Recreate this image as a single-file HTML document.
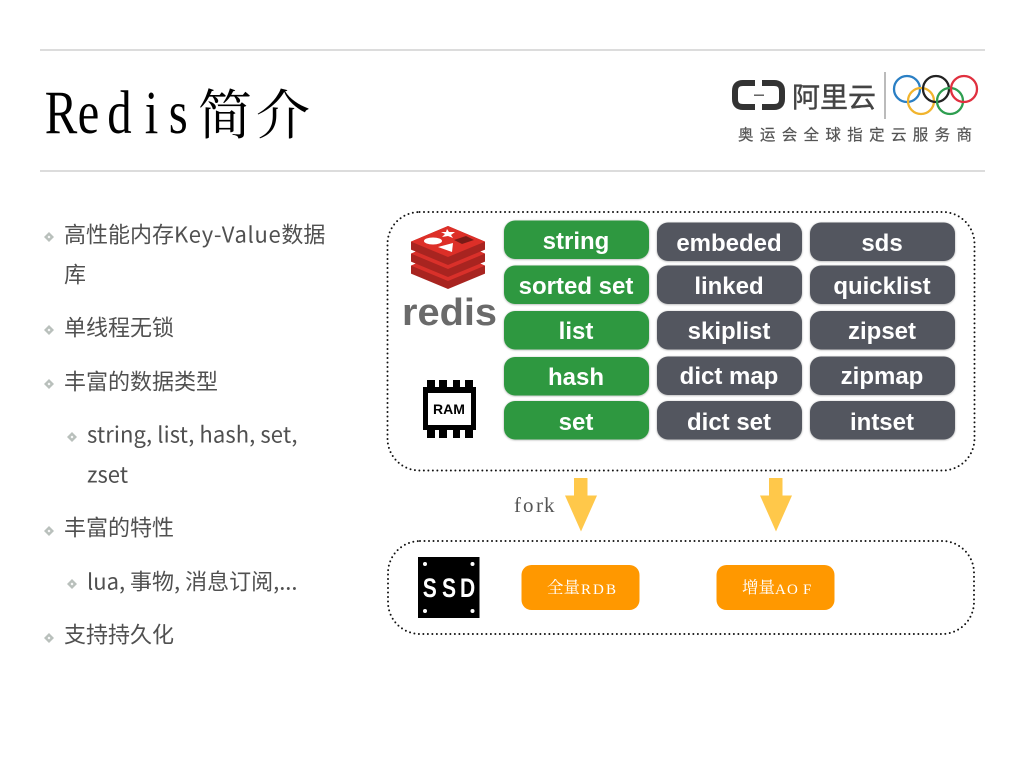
<!DOCTYPE html>
<html lang="zh"><head><meta charset="utf-8"><title>Redis简介</title>
<style>
html,body{margin:0;padding:0;background:#fff;width:1024px;height:768px;overflow:hidden}
svg{display:block}
.b{font-family:"Noto Sans CJK SC","Liberation Sans",sans-serif;font-size:22px;fill:#505050}
.p{font-family:"Liberation Sans",sans-serif;font-weight:bold;font-size:24px;fill:#fff;text-anchor:middle}
.t{font-family:"Noto Serif CJK SC","Liberation Serif",serif}
</style></head><body>
<svg width="1024" height="768" viewBox="0 0 1024 768" xmlns="http://www.w3.org/2000/svg">
<defs>
<filter id="s" x="-5%" y="-15%" width="110%" height="130%"><feGaussianBlur in="SourceAlpha" stdDeviation="1"/><feOffset dy="0.5"/><feComponentTransfer><feFuncA type="linear" slope="0.35"/></feComponentTransfer><feMerge><feMergeNode/><feMergeNode in="SourceGraphic"/></feMerge></filter>
<g id="d"><path d="M0-5 5 0 0 5-5 0Z" fill="#b9c0bc"/><path d="M0-1.500 1.500 0 0 1.500-1.500 0Z" fill="#fff"/></g>
</defs>
<line x1="40" y1="50" x2="985" y2="50" stroke="#dcdcdc" stroke-width="2"/>
<line x1="40" y1="171" x2="985" y2="171" stroke="#dcdcdc" stroke-width="2"/>

<text transform="scale(.8 1)" x="56 97 134 181 211" y="133" font-family="'Liberation Serif',serif" font-size="61" fill="#000">Redis</text>
<text x="198 256" y="134" class="t" font-size="54" fill="#000">简介</text>

<!-- Logo -->
<path d="M755 83H743Q735 83 735 91V99Q735 107 743 107H755" fill="none" stroke="#333" stroke-width="6"/>
<path d="M762 83H774Q782 83 782 91V99Q782 107 774 107H762" fill="none" stroke="#333" stroke-width="6"/>
<rect x="754" y="94.500" width="10" height="1.400" fill="#555"/>
<text x="792" y="107" font-family="'Noto Sans CJK SC',sans-serif" font-size="28" fill="#444" stroke="#444" stroke-width=".4">阿里云</text>
<line x1="885" y1="72" x2="885" y2="119" stroke="#777" stroke-width="1"/>
<g fill="none" stroke-width="2.300">
<circle cx="907" cy="89" r="13" stroke="#2a7fc4"/>
<circle cx="921" cy="101" r="13" stroke="#f1b42d"/>
<circle cx="936" cy="89" r="13" stroke="#222"/>
<circle cx="950" cy="101" r="13" stroke="#2e9e50"/>
<circle cx="964" cy="89" r="13" stroke="#e0303f"/>
</g>
<text x="738" y="140" font-family="'Noto Sans CJK SC',sans-serif" font-size="15.500" fill="#555" stroke="#555" stroke-width=".2" textLength="234" lengthAdjust="spacing">奥运会全球指定云服务商</text>

<!-- Bullets -->
<use href="#d" x="49" y="237"/><use href="#d" x="49" y="330"/><use href="#d" x="49" y="384"/><use href="#d" x="72" y="437"/><use href="#d" x="49" y="531"/><use href="#d" x="72" y="584"/><use href="#d" x="49" y="638"/>
<text class="b" x="64" y="242.500">高性能内存<tspan letter-spacing=".68">Key-Value</tspan>数据</text>
<text class="b" x="64" y="282.500">库</text>
<text class="b" x="64" y="335.500">单线程无锁</text>
<text class="b" x="64" y="389.500">丰富的数据类型</text>
<text class="b" x="87" y="442.500" letter-spacing=".09">string, list, hash, set,</text>
<text class="b" x="87" y="482.500">zset</text>
<text class="b" x="64" y="535.500">丰富的特性</text>
<text class="b" x="87" y="589.500">lua, 事物, 消息订阅,...</text>
<text class="b" x="64" y="642.500">支持持久化</text>

<!-- Dotted containers -->
<rect x="387.500" y="212" width="587" height="258.500" rx="32" fill="#fff" stroke="#111" stroke-width="2" stroke-linecap="round" stroke-dasharray="0 4.500"/>
<rect x="388" y="541" width="586" height="93" rx="32" fill="#fff" stroke="#111" stroke-width="2" stroke-linecap="round" stroke-dasharray="0 4.500"/>

<!-- Redis logo -->
<path d="M411 265.600 448 250 485 265.600V273.600L448 289 411 273.600Z" fill="#a82420"/>
<path d="M411 265.600 448 281 485 265.600 448 250Z" fill="#d9302a"/>
<path d="M411 253.600 448 238 485 253.600V261.600L448 277 411 261.600Z" fill="#a82420"/>
<path d="M411 253.600 448 269 485 253.600 448 238Z" fill="#d9302a"/>
<path d="M411 241.600 448 226 485 241.600V249.600L448 265 411 249.600Z" fill="#a82420"/>
<path d="M411 241.600 448 257 485 241.600 448 226Z" fill="#dd2f28"/>
<ellipse cx="433" cy="241" rx="9" ry="3.500" fill="#fff"/>
<path d="M447 229 449 232 455 232 451 235 453 238 448 236 442 237 445 234 441 232 446 232Z" fill="#fff"/>
<path d="M438 247 453 243 452 252Z" fill="#fff"/>
<path d="M454 240 466 236 474 240 462 244Z" fill="#7a1a16"/>
<text x="402" y="325" font-family="'Liberation Sans',sans-serif" font-size="38" font-weight="bold" fill="#6a6a6a" textLength="95" lengthAdjust="spacingAndGlyphs">redis</text>

<!-- RAM chip -->
<g fill="#000">
<rect x="423" y="387" width="53" height="43"/>
<rect x="427" y="380" width="8" height="8"/><rect x="439" y="380" width="8" height="8"/><rect x="453" y="380" width="7" height="8"/><rect x="465" y="380" width="8" height="8"/>
<rect x="427" y="429" width="8" height="9"/><rect x="439" y="429" width="8" height="9"/><rect x="453" y="429" width="7" height="9"/><rect x="465" y="429" width="8" height="9"/>
</g>
<rect x="428" y="393" width="43" height="32" fill="#fff"/>
<text x="449" y="414" font-family="'Liberation Sans',sans-serif" font-size="14" font-weight="bold" fill="#000" text-anchor="middle">RAM</text>

<!-- Pills -->
<g filter="url(#s)" fill="#2f9840">
<rect x="504" y="220.500" width="145" height="38.500" rx="11"/>
<rect x="504" y="265.500" width="145" height="38.500" rx="11"/>
<rect x="504" y="311" width="145" height="38.500" rx="11"/>
<rect x="504" y="357" width="145" height="38.500" rx="11"/>
<rect x="504" y="401" width="145" height="38.500" rx="11"/>
</g>
<g filter="url(#s)" fill="#52565e">
<rect x="657" y="222.500" width="145" height="38.500" rx="11"/>
<rect x="657" y="265.500" width="145" height="38.500" rx="11"/>
<rect x="657" y="311" width="145" height="38.500" rx="11"/>
<rect x="657" y="356.500" width="145" height="38.500" rx="11"/>
<rect x="657" y="401" width="145" height="38.500" rx="11"/>
<rect x="810" y="222.500" width="145" height="38.500" rx="11"/>
<rect x="810" y="265.500" width="145" height="38.500" rx="11"/>
<rect x="810" y="311" width="145" height="38.500" rx="11"/>
<rect x="810" y="356.500" width="145" height="38.500" rx="11"/>
<rect x="810" y="401" width="145" height="38.500" rx="11"/>
</g>
<text class="p" x="576" y="249">string</text>
<text class="p" x="576" y="294">sorted set</text>
<text class="p" x="576" y="339">list</text>
<text class="p" x="576" y="385">hash</text>
<text class="p" x="576" y="430">set</text>
<text class="p" x="729" y="251">embeded</text>
<text class="p" x="729" y="294">linked</text>
<text class="p" x="729" y="339">skiplist</text>
<text class="p" x="729" y="384">dict map</text>
<text class="p" x="729" y="430">dict set</text>
<text class="p" x="882" y="251">sds</text>
<text class="p" x="882" y="294">quicklist</text>
<text class="p" x="882" y="339">zipset</text>
<text class="p" x="882" y="384">zipmap</text>
<text class="p" x="882" y="430">intset</text>

<!-- Arrows -->
<path d="M574 478H587.500V495.500H597L581 531.500 565 495.500H574Z" fill="#ffc84a"/>
<path d="M769 478H782.500V495.500H792L776 531.500 760 495.500H769Z" fill="#ffc84a"/>
<text x="514 523 536 544" y="512" font-family="'Liberation Serif',serif" font-size="21" fill="#555">fork</text>

<!-- SSD -->
<rect x="418" y="557" width="61.500" height="61" fill="#000"/>
<g fill="#fff"><circle cx="425" cy="564" r="2"/><circle cx="472.500" cy="564" r="2"/><circle cx="425" cy="611" r="2"/><circle cx="472.500" cy="611" r="2"/></g>
<text transform="scale(.78 1)" x="542 566.700 589.700" y="597" font-family="'Liberation Sans',sans-serif" font-size="27" font-weight="bold" fill="#fff">SSD</text>

<!-- Orange boxes -->
<rect x="521.500" y="565" width="118" height="45" rx="10" fill="#ff9800"/>
<rect x="716.500" y="565" width="118" height="45" rx="10" fill="#ff9800"/>
<text x="547" y="593" class="t" font-size="16.500" fill="#fff">全量</text>
<text x="581 593 606" y="594" font-family="'Liberation Serif',serif" font-size="15" fill="#fff">RDB</text>
<text x="742" y="593" class="t" font-size="16.500" fill="#fff">增量</text>
<text x="775 787 803" y="594" font-family="'Liberation Serif',serif" font-size="15" fill="#fff">AOF</text>
</svg>
</body></html>
